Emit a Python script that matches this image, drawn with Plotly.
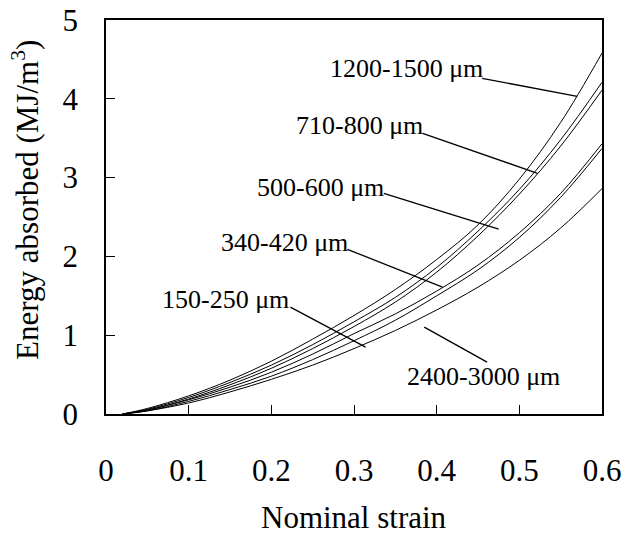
import plotly.graph_objects as go

# Nominal strain sample points
strain = [0.02, 0.05, 0.10, 0.15, 0.20, 0.25, 0.30, 0.35, 0.40, 0.45, 0.50, 0.55, 0.60]

# Energy absorbed (MJ/m^3) for each cell-size range
e_1200_1500 = [0.0, 0.07, 0.23, 0.43, 0.67, 0.95, 1.25, 1.58, 1.96, 2.40, 2.98, 3.70, 4.58]
e_710_800   = [0.0, 0.06, 0.21, 0.40, 0.62, 0.88, 1.17, 1.48, 1.86, 2.32, 2.85, 3.48, 4.21]
e_500_600   = [0.0, 0.05, 0.19, 0.37, 0.58, 0.83, 1.11, 1.42, 1.80, 2.26, 2.79, 3.40, 4.11]
e_340_420   = [0.0, 0.05, 0.18, 0.34, 0.53, 0.76, 1.02, 1.27, 1.56, 1.89, 2.30, 2.80, 3.43]
e_150_250   = [0.0, 0.04, 0.16, 0.31, 0.48, 0.69, 0.93, 1.19, 1.50, 1.83, 2.24, 2.75, 3.37]
e_2400_3000 = [0.0, 0.04, 0.14, 0.28, 0.44, 0.62, 0.83, 1.06, 1.32, 1.61, 1.95, 2.36, 2.86]

series = [
    ("1200-1500 μm", e_1200_1500),
    ("710-800 μm", e_710_800),
    ("500-600 μm", e_500_600),
    ("340-420 μm", e_340_420),
    ("150-250 μm", e_150_250),
    ("2400-3000 μm", e_2400_3000),
]

x_ticks = [0, 0.1, 0.2, 0.3, 0.4, 0.5, 0.6]
x_tick_text = ["0", "0.1", "0.2", "0.3", "0.4", "0.5", "0.6"]
y_ticks = [0, 1, 2, 3, 4, 5]
y_tick_text = ["0", "1", "2", "3", "4", "5"]

# label placement: (text, text_x, text_y, leader x0, y0, x1, y1)
labels = [
    ("1200-1500 μm", 0.269, 4.385, 0.455, 4.26, 0.570, 4.03),
    ("710-800 μm",   0.228, 3.663, 0.383, 3.56, 0.522, 3.055),
    ("500-600 μm",   0.180, 2.877, 0.336, 2.80, 0.475, 2.345),
    ("340-420 μm",   0.137, 2.180, 0.292, 2.09, 0.407, 1.61),
    ("150-250 μm",   0.065, 1.458, 0.223, 1.356, 0.314, 0.849),
    ("2400-3000 μm", 0.362, 0.480, 0.385, 1.103, 0.461, 0.659),
]

FONT = "Liberation Serif, Times New Roman, serif"

fig = go.Figure()
for name, vals in series:
    fig.add_trace(go.Scatter(
        x=strain, y=vals, mode="lines", name=name,
        line=dict(color="black", width=1, shape="spline"),
        showlegend=False,
    ))

for text, tx, ty, x0, y0, x1, y1 in labels:
    fig.add_annotation(x=tx, y=ty, xref="x", yref="y", text=text,
                       showarrow=False, xanchor="left", yanchor="middle",
                       font=dict(family=FONT, size=26, color="black"))
    fig.add_shape(type="line", xref="x", yref="y", x0=x0, y0=y0, x1=x1, y1=y1,
                  line=dict(color="black", width=1.3))

# axis titles
fig.add_annotation(x=0.5, y=-0.262, xref="paper", yref="paper",
                   text="Nominal strain", showarrow=False,
                   xanchor="center", yanchor="middle",
                   font=dict(family=FONT, size=31, color="black"))
fig.add_annotation(x=-0.162, y=0.5425, xref="paper", yref="paper",
                   text="Energy absorbed (MJ/m<sup>3</sup>)", showarrow=False,
                   textangle=-90, xanchor="center", yanchor="middle",
                   font=dict(family=FONT, size=31, color="black"))

fig.update_layout(
    width=627, height=535,
    margin=dict(l=105.5, r=25.3, t=19.5, b=121),
    paper_bgcolor="white", plot_bgcolor="white",
    font=dict(family=FONT, size=30, color="black"),
)
fig.update_xaxes(
    range=[0, 0.6], tickvals=x_ticks, ticktext=x_tick_text,
    ticks="inside", ticklen=9, tickcolor="black", tickwidth=1,
    showline=True, linecolor="black", linewidth=1.5, mirror=True,
    showgrid=False, zeroline=False, ticklabelstandoff=28, automargin=False,
    tickfont=dict(family=FONT, size=31, color="black"),
)
fig.update_yaxes(
    range=[0, 5], tickvals=y_ticks, ticktext=y_tick_text,
    ticks="inside", ticklen=9, tickcolor="black", tickwidth=1,
    showline=True, linecolor="black", linewidth=1.5, mirror=True,
    showgrid=False, zeroline=False, ticklabelstandoff=20, automargin=False,
    tickfont=dict(family=FONT, size=31, color="black"),
)

fig.write_html("out.html")
